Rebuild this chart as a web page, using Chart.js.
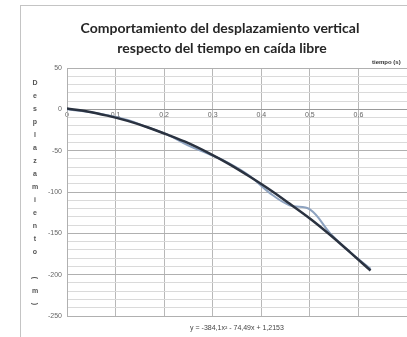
<!DOCTYPE html>
<html>
<head>
<meta charset="utf-8">
<script src="https://cdn.jsdelivr.net/npm/chart.js@4.4.1/dist/chart.umd.min.js"></script>
<style>
  html, body { margin: 0; padding: 0; background: #fff; overflow: hidden; width: 407px; height: 337px; }
  #wrap { position: absolute; left: 0; top: 0; width: 409px; height: 337px; }
  #frame { position: absolute; left: 20px; top: 5px; width: 420px; height: 400px; border-left: 1px solid #c4c4c4; border-top: 1px solid #c4c4c4; }
</style>
</head>
<body>
<div id="frame"></div>
<div id="wrap"><canvas id="c"></canvas></div>
<script>
// ---- data ----
const titleLines = ["Comportamiento del desplazamiento vertical", "respecto del tiempo en caída libre"];
const xAxisTitle = "tiempo (s)";
const yAxisTitle = "Desplazamiento (m)";
const equation = "y = -384,1x² - 74,49x + 1,2153";

const times = [0, 0.042, 0.083, 0.125, 0.167, 0.208, 0.25, 0.292, 0.333, 0.375, 0.417, 0.458, 0.5, 0.542, 0.583, 0.625];
const measured = [0, -3, -7, -13, -22, -31, -44, -54, -65, -80, -101, -116, -121, -150, -173, -193];
const trendTimes = [0, 0.042, 0.083, 0.125, 0.167, 0.208, 0.25, 0.292, 0.333, 0.375, 0.417, 0.458, 0.5, 0.542, 0.583, 0.625];
const trend = [1, -2.5, -7.6, -14, -22, -31, -41, -53, -66, -81, -97, -114, -132, -152, -173, -195];

const xTickLabels = ["0", "0,1", "0,2", "0,3", "0,4", "0,5", "0,6", "0,7"];
const yMajorTicks = [50, 0, -50, -100, -150, -200, -250];

const pts = (xs, ys) => xs.map((x, i) => ({ x: x, y: ys[i] }));

const textPlugin = {
  id: 'texts',
  afterDraw(chart) {
    const ctx = chart.ctx;
    ctx.save();
    // title
    ctx.fillStyle = '#262626';
    ctx.font = 'bold 14px Lato';
    ctx.textAlign = 'center';
    ctx.textBaseline = 'middle';
    ctx.fillText(titleLines[0], 220, 28);
    ctx.fillText(titleLines[1], 222, 48);
    // x axis title
    ctx.font = 'bold 6px "Liberation Sans"';
    ctx.fillStyle = '#333';
    ctx.textAlign = 'left';
    ctx.fillText(xAxisTitle, 372, 62);
    // stacked y title
    ctx.font = 'bold 7px "Liberation Sans"';
    ctx.fillStyle = '#555';
    ctx.textAlign = 'center';
    const chars = Array.from(yAxisTitle);
    const y0 = 83, step = 13;
    chars.forEach((ch, i) => {
      const y = y0 + i * step;
      if (ch === '(' || ch === ')') {
        ctx.save();
        ctx.translate(35, y);
        ctx.rotate(Math.PI / 2);
        ctx.fillText(ch, 0, 0);
        ctx.restore();
      } else {
        ctx.fillText(ch, 35, y);
      }
    });
    // equation
    ctx.font = '7px "Liberation Sans"';
    ctx.fillStyle = '#444';
    ctx.fillText(equation, 237, 328);
    ctx.restore();
  }
};

new Chart(document.getElementById('c'), {
  type: 'scatter',
  data: {
    datasets: [
      {
        label: 'Trend',
        data: pts(trendTimes, trend),
        showLine: true,
        borderColor: '#2a3240',
        borderWidth: 2.5,
        pointRadius: 0,
        cubicInterpolationMode: 'monotone',
        order: 0
      },
      {
        label: 'Medido',
        data: pts(times, measured),
        showLine: true,
        borderColor: '#8ea3c0',
        borderWidth: 2,
        pointRadius: 0,
        tension: 0.4,
        order: 1
      }
    ]
  },
  options: {
    responsive: true,
    maintainAspectRatio: false,
    animation: false,
    events: [],
    layout: { padding: { top: 68, bottom: 21, left: 0, right: 0 } },
    plugins: { legend: { display: false }, tooltip: { enabled: false }, title: { display: false } },
    scales: {
      x: {
        type: 'linear',
        position: { y: 0 },
        min: 0, max: 0.7,
        ticks: {
          stepSize: 0.1,
          color: '#666',
          font: { size: 7, family: 'Liberation Sans' },
          padding: 2,
          maxRotation: 0,
          callback: (v, i) => (i < xTickLabels.length - 1 ? xTickLabels[i] : '')
        },
        grid: { color: '#b8b8b8', lineWidth: 1, drawTicks: false },
        border: { color: '#9a9a9a', width: 1 }
      },
      y: {
        min: -250, max: 50,
        afterFit(scale) { scale.width = 67; },
        ticks: {
          stepSize: 10,
          autoSkip: false,
          color: '#666',
          font: { size: 7, family: 'Liberation Sans' },
          padding: 5,
          callback: (v) => (yMajorTicks.includes(v) ? String(v) : '')
        },
        grid: {
          drawTicks: false,
          color: (c) => (c.tick && c.tick.value % 50 === 0 ? '#b0b0b0' : '#dadada'),
          lineWidth: 1
        },
        border: { color: '#b0b0b0', width: 1 }
      }
    }
  },
  plugins: [textPlugin]
});
</script>
</body>
</html>
